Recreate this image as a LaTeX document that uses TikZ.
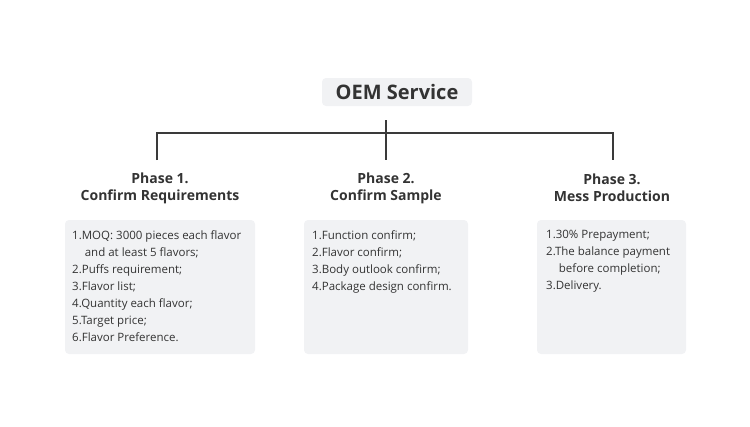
\documentclass[tikz,border=0pt]{standalone}
\usepackage{fontspec}
\setmainfont{Open Sans}
\definecolor{boxfill}{HTML}{F1F2F4}
\definecolor{linec}{HTML}{3A3A3A}
\definecolor{txt}{HTML}{333333}
\tikzset{
  card/.style={fill=boxfill, rounded corners=4pt, draw=none},
  lst/.style={anchor=north west, align=left, inner sep=0pt, text=txt,
    font=\fontsize{11.5}{17}\selectfont},
  phase/.style={align=center, text=txt, font=\fontsize{14}{17}\selectfont\bfseries},
  conn/.style={draw=linec, line width=1.8pt}
}
\begin{document}
\begin{tikzpicture}[x=1pt,y=-1pt]
\useasboundingbox (0,0) rectangle (750,426);
\fill[card] (322,78) rectangle (472,106);
\node[text=txt, font=\fontsize{20}{24}\selectfont\bfseries] (oem) at (397,92) {OEM Service};
\coordinate (top) at (386,120);
\coordinate (mid) at (386,133);
\coordinate (l) at (157,133);
\coordinate (r) at (613,133);
\coordinate (ld) at (157,160);
\coordinate (md) at (386,160);
\coordinate (rd) at (613,160);
\draw[conn] (top) -- (md);
\draw[conn] (ld) -- (l) -- (r) -- (rd);
\node[phase] (p1) at (160,188) {Phase 1.\\Confirm Requirements};
\node[phase] (p2) at (386,188) {Phase 2.\\Confirm Sample};
\node[phase] (p3) at (612,188) {Phase 3.\\Mess Production};
\fill[card] (65,220) rectangle (255,354);
\fill[card] (304,220) rectangle (468,354);
\fill[card] (537,220) rectangle (686,354);
\node[lst] (t1) at (72,230) {1.MOQ: 3000 pieces each flavor\\\hspace*{1.1em}and at least 5 flavors;\\2.Puffs requirement;\\3.Flavor list;\\4.Quantity each flavor;\\5.Target price;\\6.Flavor Preference.};
\node[lst] (t2) at (312,230) {1.Function confirm;\\2.Flavor confirm;\\3.Body outlook confirm;\\4.Package design confirm.};
\node[lst] (t3) at (546,230) {1.30\% Prepayment;\\2.The balance payment\\\hspace*{1.1em}before completion;\\3.Delivery.};
\end{tikzpicture}
\end{document}
